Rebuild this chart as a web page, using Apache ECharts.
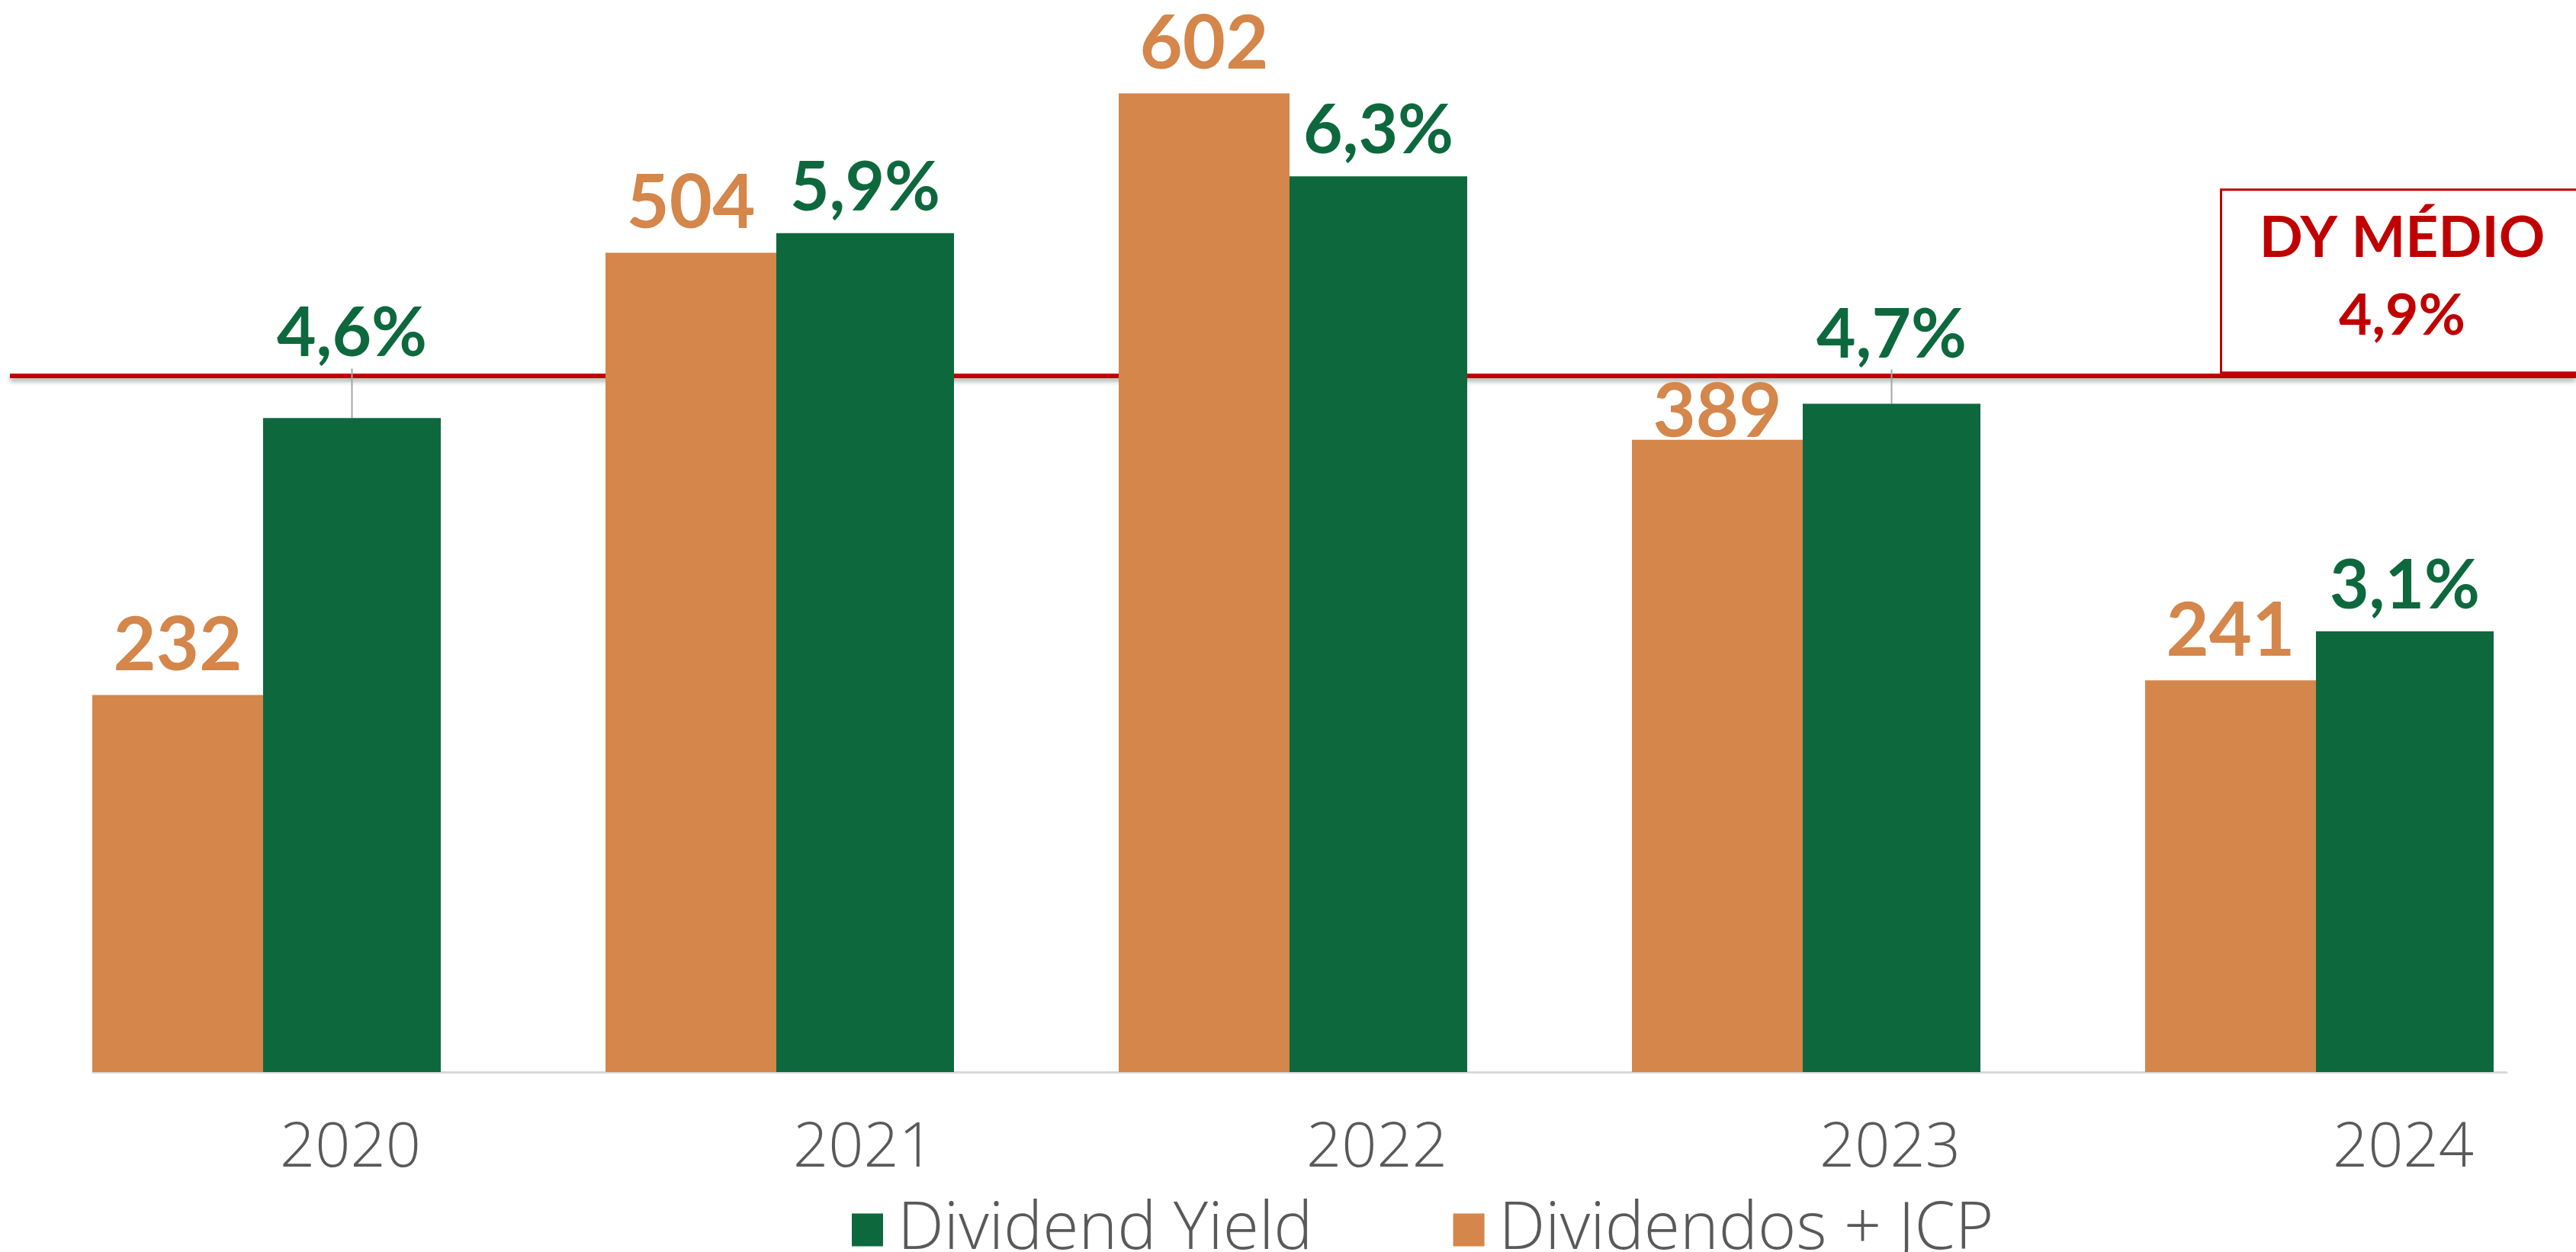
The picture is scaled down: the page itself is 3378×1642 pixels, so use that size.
<!DOCTYPE html>
<html>
<head>
<meta charset="utf-8">
<script src="https://cdn.jsdelivr.net/npm/echarts@6/dist/echarts.min.js"></script>
<style>
  html, body { margin: 0; padding: 0; background: #ffffff; }
  #chart { width: 3378px; height: 1642px; }
</style>
</head>
<body>
<div id="chart"></div>
<script>
// ---- data ----
const categories = ['2020', '2021', '2022', '2023', '2024'];
const dividendosJcp = [232, 504, 602, 389, 241];
const dividendYield = [4.6, 5.9, 6.3, 4.7, 3.1];
const dyMedio = 4.9;
const seriesNames = ['Dividendos + JCP', 'Dividend Yield'];
const legendOrder = ['Dividend Yield', 'Dividendos + JCP'];

// ---- styling ----
const ORANGE = '#D4864B';
const GREEN = '#0D693D';
const RED = '#C00000';
const GREY_TEXT = '#595959';
const greenLabelShift = { 0: -51, 3: -31 };
const orangeLabelShift = { 3: 29 };

const pct = v => Number(v).toFixed(1).replace('.', ',') + '%';

const greenData = dividendYield.map((v, i) => ({
  value: v,
  labelLine: { show: greenLabelShift[i] !== undefined }
}));

const chart = echarts.init(document.getElementById('chart'));

const option = {
  backgroundColor: '#ffffff',
  animation: false,
  grid: [
    { left: 13, width: 3375, top: 0, bottom: 236 },
    { left: 122, width: 3165, top: 0, bottom: 236 }
  ],
  legend: {
    data: legendOrder,
    left: 1112,
    top: 1565,
    itemWidth: 41,
    itemHeight: 43,
    itemGap: 184,
    icon: 'rect',
    textStyle: {
      fontFamily: '"Open Sans", sans-serif',
      fontWeight: 300,
      fontSize: 86,
      lineHeight: 86,
      color: GREY_TEXT,
      padding: [0, 0, 0, 14]
    }
  },
  xAxis: [
    {
      type: 'category',
      gridIndex: 0,
      data: categories,
      axisLine: { show: false },
      axisTick: { show: false },
      axisLabel: {
        margin: 60,
        fontFamily: '"Open Sans", sans-serif',
        fontWeight: 300,
        fontSize: 81,
        lineHeight: 81,
        color: GREY_TEXT,
        padding: [0, 0, 0, 220]
      }
    },
    {
      type: 'category',
      gridIndex: 1,
      data: categories,
      axisLine: { show: true, lineStyle: { color: '#D9D9D9', width: 3 } },
      axisTick: { show: false },
      axisLabel: { show: false }
    }
  ],
  yAxis: [
    { type: 'value', gridIndex: 0, min: 0, max: 659.5, show: false, splitLine: { show: false } },
    { type: 'value', gridIndex: 0, min: 0, max: 7.54, show: false, splitLine: { show: false } },
    { type: 'value', gridIndex: 1, min: 0, max: 1, show: false, splitLine: { show: false } }
  ],
  series: [
    {
      name: seriesNames[0],
      type: 'bar',
      xAxisIndex: 0,
      yAxisIndex: 0,
      data: dividendosJcp,
      barWidth: 224,
      barGap: '0%',
      itemStyle: { color: ORANGE },
      label: {
        show: true,
        position: 'top',
        distance: 15,
        fontFamily: 'Lato, sans-serif',
        fontWeight: 'bold',
        fontSize: 97,
        lineHeight: 97,
        color: ORANGE
      },
      labelLayout: function (p) {
        const s = orangeLabelShift[p.dataIndex];
        return s ? { dy: s } : {};
      }
    },
    {
      name: seriesNames[1],
      type: 'bar',
      xAxisIndex: 0,
      yAxisIndex: 1,
      data: greenData,
      barWidth: 233,
      barGap: '0%',
      itemStyle: { color: GREEN },
      label: {
        show: true,
        position: 'top',
        distance: 14,
        fontFamily: 'Lato, sans-serif',
        fontWeight: 'bold',
        fontSize: 89,
        lineHeight: 89,
        color: GREEN,
        formatter: p => pct(p.value)
      },
      labelLine: {
        show: false,
        lineStyle: { color: '#A6A6A6', width: 2 }
      },
      labelLayout: function (p) {
        const s = greenLabelShift[p.dataIndex];
        return s ? { dy: s } : {};
      },
      markLine: {
        z: 1,
        silent: true,
        symbol: ['none', 'none'],
        lineStyle: {
          color: RED,
          width: 6,
          type: 'solid',
          shadowColor: 'rgba(0,0,0,0.35)',
          shadowBlur: 6,
          shadowOffsetY: 4
        },
        label: {
          show: true,
          position: 'insideEndTop',
          distance: [-40, 5],
          backgroundColor: '#ffffff',
          borderColor: RED,
          borderWidth: 3,
          padding: [12, 32, 21, 0],
          formatter: p => '{a|DY MÉDIO}\n{a|' + pct(p.value) + '}',
          rich: {
            a: {
              width: 472,
              align: 'center',
              fontFamily: 'Lato, sans-serif',
              fontWeight: 'bold',
              fontSize: 75,
              lineHeight: 102,
              color: RED
            }
          }
        },
        data: [{ yAxis: dyMedio }]
      }
    }
  ]
};

chart.setOption(option);
</script>
</body>
</html>
